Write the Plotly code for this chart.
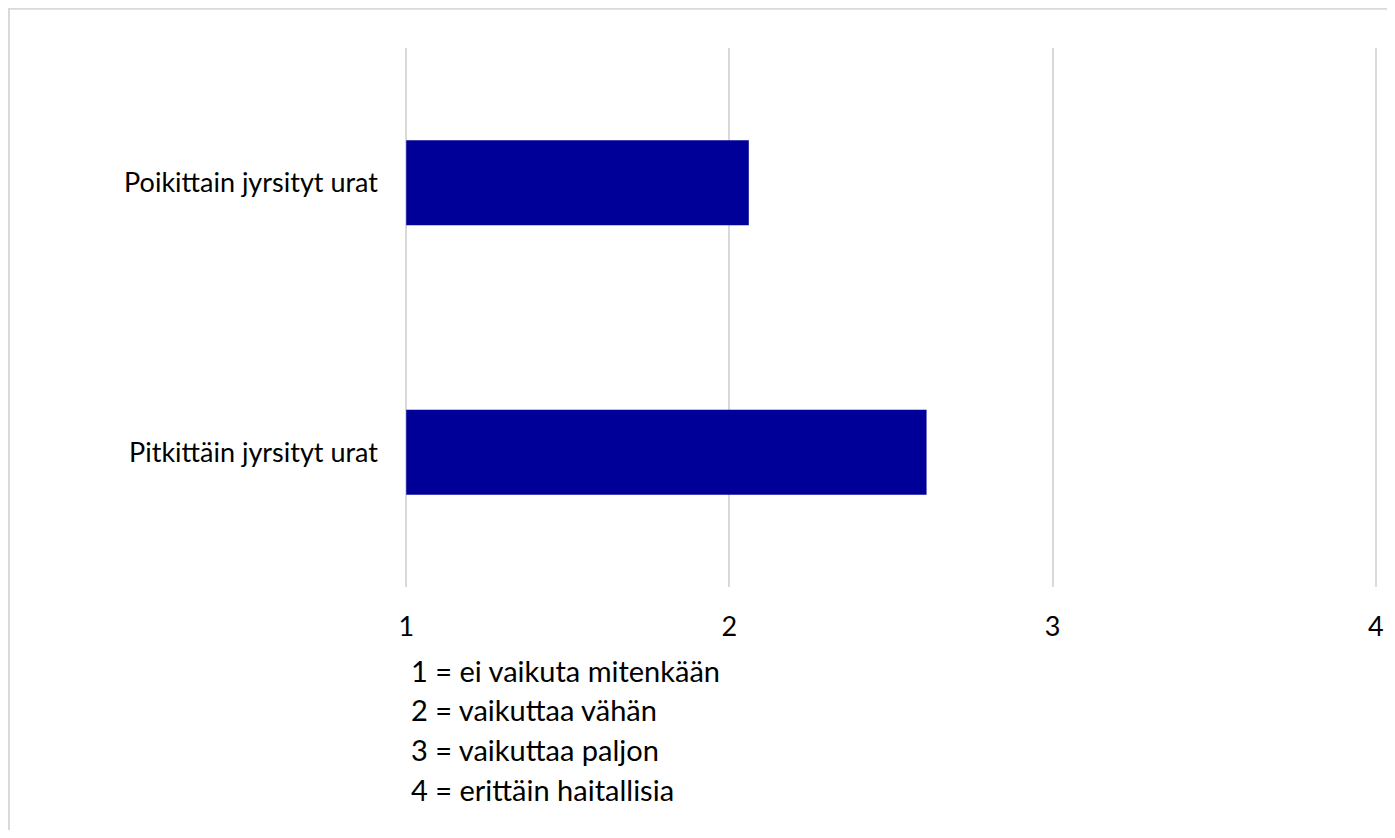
import plotly.graph_objects as go

categories = ["Pitkittäin jyrsityt urat", "Poikittain jyrsityt urat"]
values = [2.61, 2.06]
tick_vals = [1, 2, 3, 4]
scale_notes = [
    "1 = ei vaikuta mitenkään",
    "2 = vaikuttaa vähän",
    "3 = vaikuttaa paljon",
    "4 = erittäin haitallisia",
]

_FAMILY = "Lato, Open Sans, sans-serif"
_FONT = dict(family=_FAMILY, color="#000000", size=27)
_NOTE_FONT = dict(family=_FAMILY, color="#000000", size=29)
_GRID = "#d9d9d9"

fig = go.Figure(
    go.Bar(
        x=[v - 1 for v in values],
        base=1,
        y=categories,
        orientation="h",
        width=0.315,
        marker=dict(color="#000099", line=dict(width=0)),
        hoverinfo="skip",
    )
)

# page body adds an 8px margin, so the figure is a little smaller than the window;
# x range padded so plotly still draws the gridlines at 1 and 4
fig.update_layout(
    width=1387,
    height=822,
    margin=dict(l=395, r=16, t=40, b=243),
    paper_bgcolor="white",
    plot_bgcolor="white",
    font=_FONT,
    showlegend=False,
    xaxis=dict(
        range=[0.99, 4.01],
        tickvals=tick_vals,
        showgrid=True,
        gridcolor=_GRID,
        gridwidth=1.5,
        zeroline=False,
        showline=False,
        ticks="",
        ticklabelstandoff=21,
    ),
    yaxis=dict(
        range=[-0.5, 1.5],
        showgrid=False,
        zeroline=False,
        showline=False,
        ticks="",
        ticklabelstandoff=24,
    ),
)

# outer chart frame (cropped at right and bottom like the original)
fig.add_shape(
    type="rect",
    xref="paper", yref="paper",
    x0=-0.404, x1=1.1, y0=-1.0, y1=1.0735,
    line=dict(color="#d9d9d9", width=2.5),
    fillcolor="rgba(0,0,0,0)",
    layer="below",
)

for i, note in enumerate(scale_notes):
    fig.add_annotation(
        text=note,
        xref="paper", yref="paper",
        x=0.006, y=-0.154 - i * 0.0742,
        xanchor="left", yanchor="middle",
        showarrow=False,
        font=_NOTE_FONT,
    )

fig.write_html("out.html")
